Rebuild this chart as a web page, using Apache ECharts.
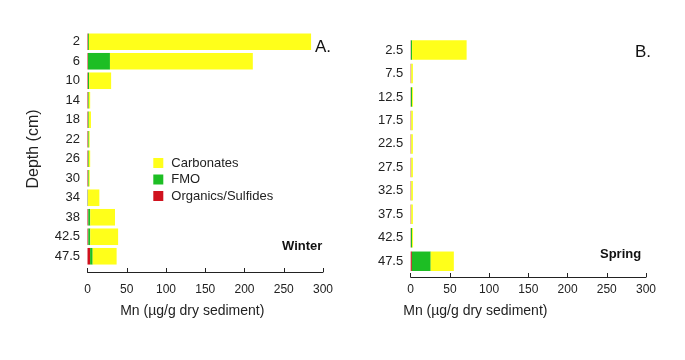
<!DOCTYPE html>
<html>
<head>
<meta charset="utf-8">
<script src="https://cdn.jsdelivr.net/npm/echarts@6/dist/echarts.min.js"></script>
<style>html,body{margin:0;padding:0;background:#fff;}#c{width:685px;height:360px;}</style>
</head>
<body>
<div id="c"></div>
<script>
// Winter (panel A)
var winterDepths = ['2','6','10','14','18','22','26','30','34','38','42.5','47.5'];
var winterOrganics = [0.6, 0.6, 0.6, 0.6, 0.6, 0.6, 0.6, 0.6, 0.3, 1, 1, 3.3];
var winterFMO = [1.2, 28, 1.5, 1, 1, 1, 1, 1, 0.3, 2.5, 2.5, 3.3];
var winterCarbonates = [283, 182, 28, 1.8, 2.8, 1.2, 1.8, 1.3, 14.5, 31.5, 35.5, 30.5];

// Spring (panel B)
var springDepths = ['2.5','7.5','12.5','17.5','22.5','27.5','32.5','37.5','42.5','47.5'];
var springOrganics = [0.3, 0.4, 0.3, 0.4, 0.4, 0.4, 0.4, 0.4, 0.3, 1.5];
var springFMO = [1.5, 0.4, 1.5, 0.4, 0.4, 0.4, 0.4, 0.4, 1.5, 24];
var springCarbonates = [69.5, 2, 1.2, 2, 2, 2, 2, 2, 1.2, 29.5];

var xTicks = [0, 50, 100, 150, 200, 250, 300];
var seriesNames = ['Organics/Sulfides', 'FMO', 'Carbonates'];
var colors = {'Carbonates': '#FFFF1A', 'FMO': '#1DBE24', 'Organics/Sulfides': '#D0121E'};

var FONT = '"Liberation Sans", Arial, sans-serif';
var chart = echarts.init(document.getElementById('c'));

function xAxisFor(gridIndex, offset, margin, gap, padR) {
  return {
    type: 'value', gridIndex: gridIndex, min: xTicks[0], max: xTicks[xTicks.length - 1], interval: 50,
    offset: offset,
    axisLine: {show: true, lineStyle: {color: '#222', width: 1}},
    axisTick: {show: true, inside: true, length: 4, lineStyle: {color: '#222'}},
    axisLabel: {color: '#222', fontSize: 12, fontFamily: FONT, margin: margin},
    splitLine: {show: false},
    name: 'Mn (µg/g dry sediment)', nameLocation: 'middle', nameGap: gap,
    nameTextStyle: {color: '#222', fontSize: 14, fontFamily: FONT, padding: [0, padR, 0, 0]}
  };
}
function yAxisFor(gridIndex, cats, name) {
  var a = {
    type: 'category', gridIndex: gridIndex, data: cats, inverse: true,
    axisLine: {show: false}, axisTick: {show: false},
    axisLabel: {color: '#222', fontSize: 13, fontFamily: FONT, margin: 7.5}
  };
  if (name) {
    a.name = name; a.nameLocation = 'middle'; a.nameGap = 46;
    a.nameTextStyle = {color: '#222', fontSize: 16, fontFamily: FONT};
  }
  return a;
}
function seriesFor(idx, stack, data, gap) {
  return seriesNames.map(function (n, i) {
    return {
      name: n, type: 'bar', stack: stack, xAxisIndex: idx, yAxisIndex: idx,
      data: data[i], barCategoryGap: gap,
      itemStyle: {color: colors[n]}, silent: true, animation: false
    };
  });
}

chart.setOption({
  animation: false,
  grid: [
    {left: 87.5, right: 362, top: 32, bottom: 94},
    {left: 410.7, right: 39, top: 38.3, bottom: 87}
  ],
  xAxis: [xAxisFor(0, 6, 12, 32, 26), xAxisFor(1, 4, 7, 27, 106)],
  yAxis: [yAxisFor(0, winterDepths, 'Depth (cm)'), yAxisFor(1, springDepths, null)],
  legend: {
    data: ['Carbonates', 'FMO', 'Organics/Sulfides'],
    orient: 'vertical', left: 153.3, top: 156.5,
    itemWidth: 10, itemHeight: 10, itemGap: 3.5, padding: 0,
    icon: 'rect',
    textStyle: {color: '#222', fontSize: 13, fontFamily: FONT, padding: [0, 0, 0, 3]}
  },
  series: seriesFor(0, 'w', [winterOrganics, winterFMO, winterCarbonates], '15%')
    .concat(seriesFor(1, 's', [springOrganics, springFMO, springCarbonates], '17%')),
  graphic: [
    {type: 'text', left: 315, top: 39, style: {text: 'A.', fontSize: 17, fontFamily: FONT, fill: '#111'}},
    {type: 'text', left: 635, top: 44, style: {text: 'B.', fontSize: 17, fontFamily: FONT, fill: '#111'}},
    {type: 'text', left: 282, top: 240, style: {text: 'Winter', fontSize: 13, fontWeight: 'bold', fontFamily: FONT, fill: '#111'}},
    {type: 'text', left: 600, top: 248, style: {text: 'Spring', fontSize: 13, fontWeight: 'bold', fontFamily: FONT, fill: '#111'}}
  ]
});
</script>
</body>
</html>
